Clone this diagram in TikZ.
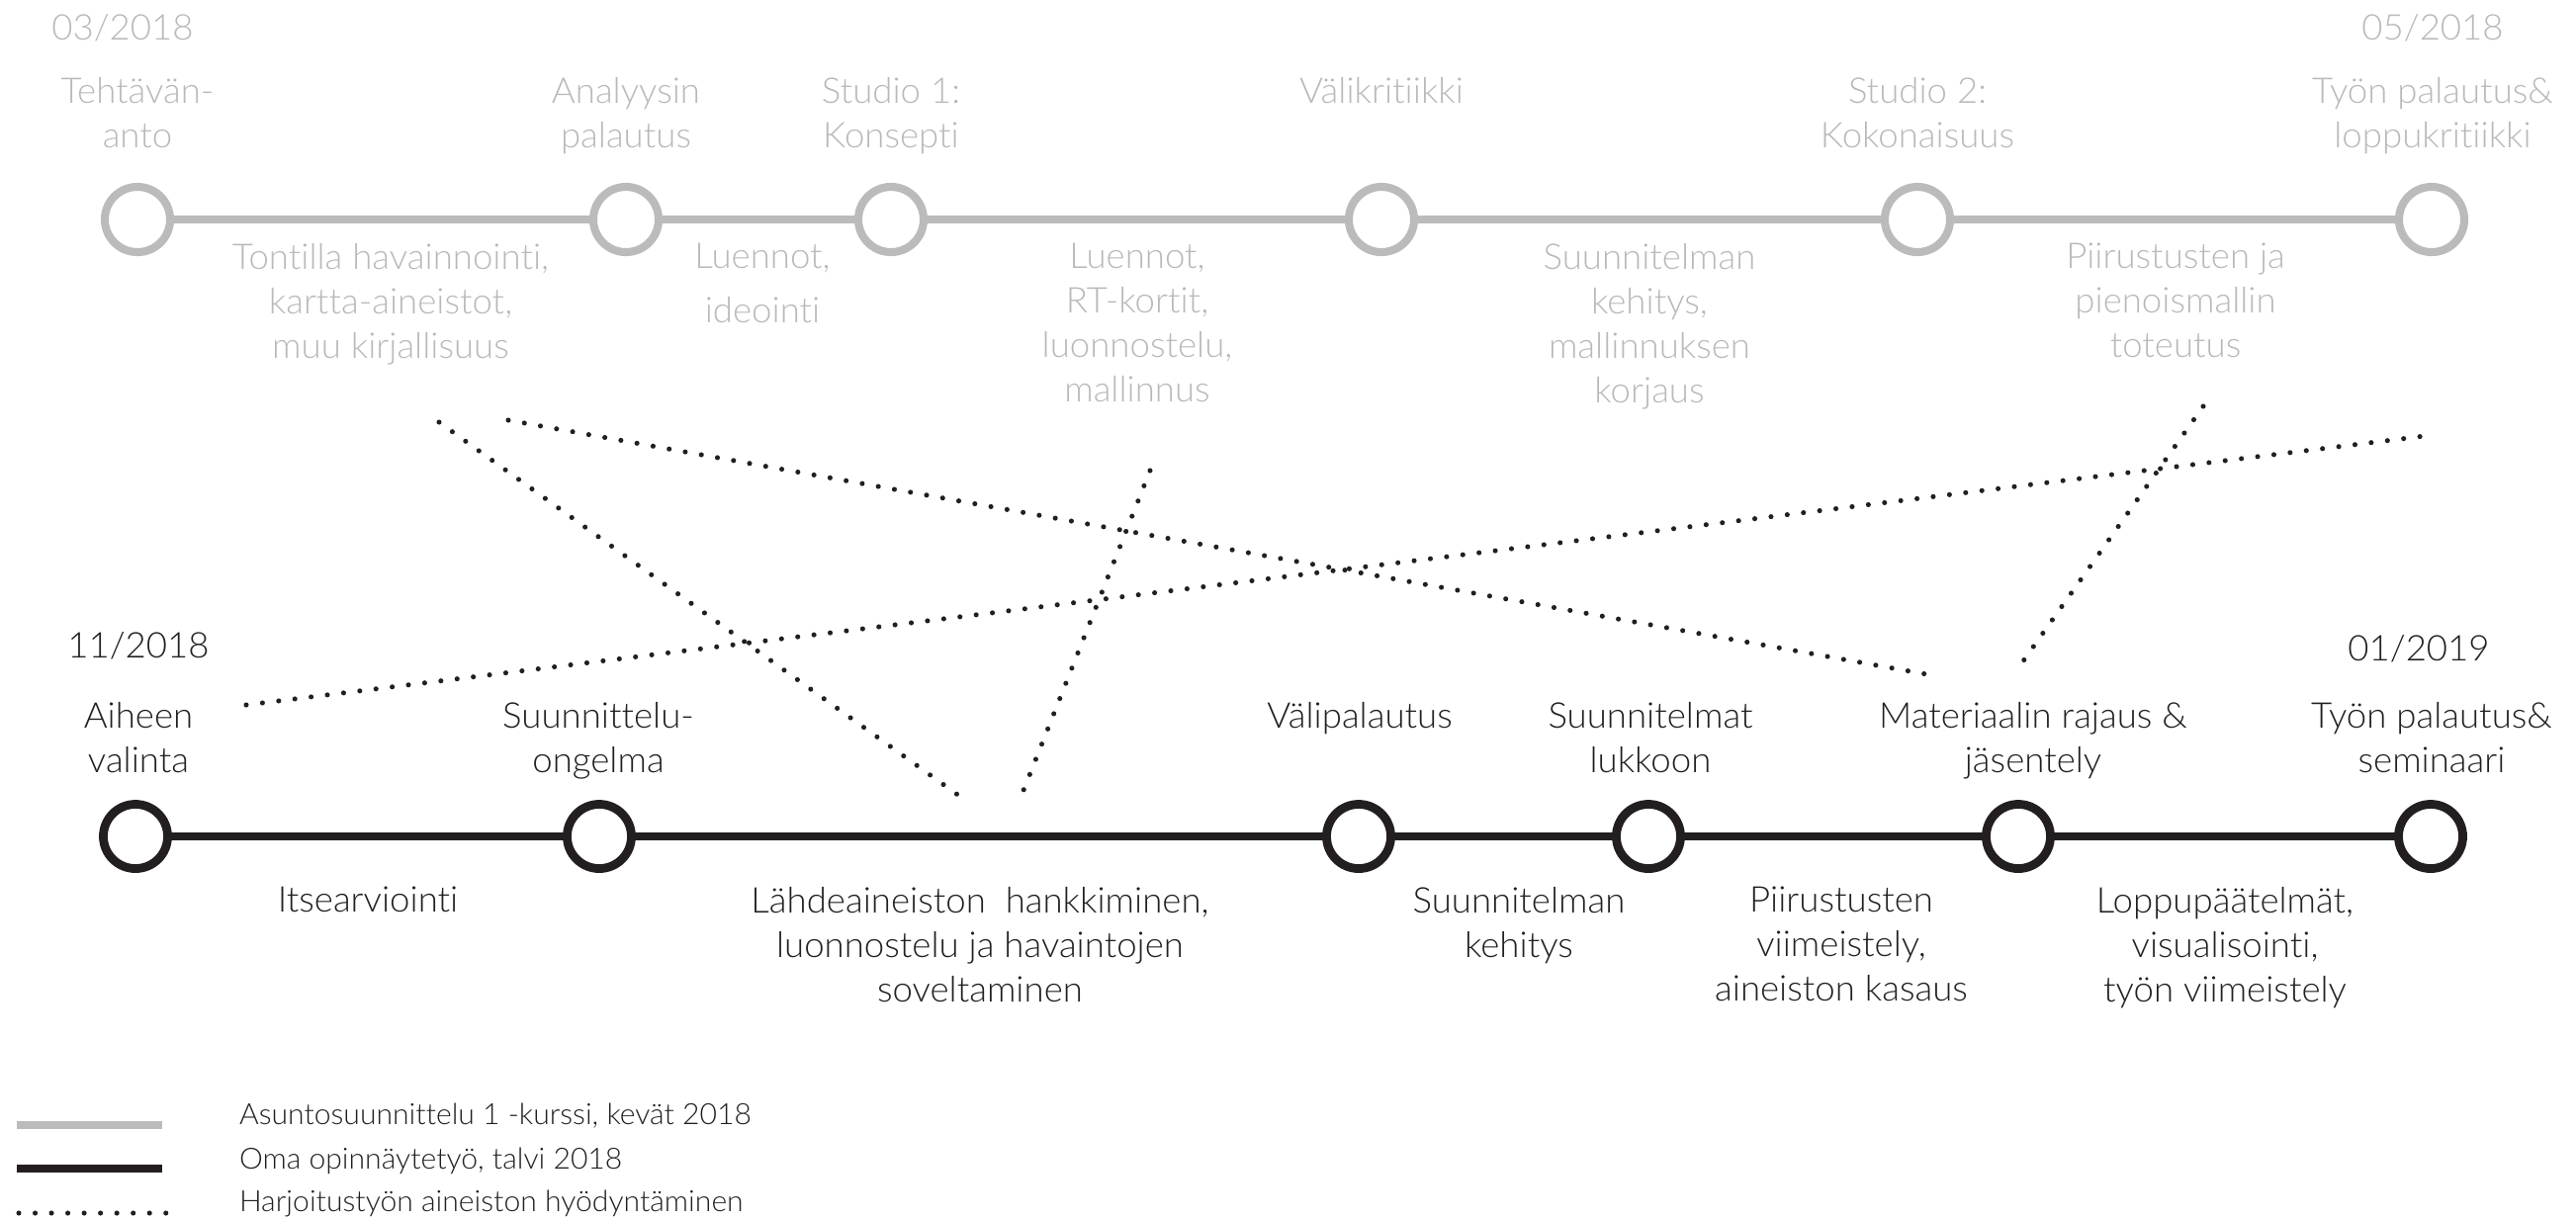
\documentclass[tikz,border=0pt]{standalone}
\usepackage{fontspec}
\IfFontExistsTF{Lato Light}{\setmainfont{Lato Light}[FakeStretch=1.02,Ligatures={NoCommon,NoContextual}]}{\setmainfont{Lato}[FakeStretch=1.02,Ligatures={NoCommon,NoContextual}]}
\definecolor{lg}{RGB}{187,187,187}
\definecolor{lgt}{RGB}{185,185,185}
\definecolor{dk}{RGB}{35,31,32}
\begin{document}
\begin{tikzpicture}[x=0.01cm,y=-0.01cm,
  every node/.style={inner sep=0pt, outer sep=0pt},
  gcirc/.style={circle, draw=lg, line width=2.3pt, minimum size=0.66cm, fill=white},
  bcirc/.style={circle, draw=dk, line width=2.5pt, minimum size=0.65cm, fill=white},
  gline/.style={draw=lg, line width=2.2pt},
  bline/.style={draw=dk, line width=2.4pt},
  dotline/.style={draw=dk, line width=1.45pt, line cap=round, dash pattern=on 0pt off 4.7pt},
  gtxt/.style={text=lgt, font=\fontsize{10.2}{12.8}\selectfont, align=center},
  btxt/.style={text=dk, font=\fontsize{10.2}{12.8}\selectfont, align=center},
  legtxt/.style={text=dk, font=\fontsize{8.4}{10}\selectfont, anchor=base west}
]
\useasboundingbox (0,0) rectangle (2605,1232);

% ---- top timeline (grey) ----
\node[gcirc] (g1) at (139,222) {};
\node[gcirc] (g2) at (633,222) {};
\node[gcirc] (g3) at (901,222) {};
\node[gcirc] (g4) at (1397,222) {};
\node[gcirc] (g5) at (1939,222) {};
\node[gcirc] (g6) at (2459,222) {};
\draw[gline] (g1) -- (g2);
\draw[gline] (g2) -- (g3);
\draw[gline] (g3) -- (g4);
\draw[gline] (g4) -- (g5);
\draw[gline] (g5) -- (g6);

\node[gtxt, anchor=base] (d1) at (124,40) {03/2018};
\node[gtxt, anchor=base] (d2) at (2460,40) {05/2018};

\node[gtxt, anchor=north] (t1) at (139,78) {Tehtävän-\\anto};
\node[gtxt, anchor=north] (t2) at (633,78) {Analyysin\\palautus};
\node[gtxt, anchor=north] (t3) at (901,78) {Studio 1:\\Konsepti};
\node[gtxt, anchor=north] (t4) at (1397,78) {Välikritiikki};
\node[gtxt, anchor=north] (t5) at (1939,78) {Studio 2:\\Kokonaisuus};
\node[gtxt, anchor=north] (t6) at (2460,78) {Työn palautus\&\\loppukritiikki};

\node[gtxt, anchor=north] (s1) at (395,246) {Tontilla havainnointi,\\kartta-aineistot,\\muu kirjallisuus};
\node[gtxt, anchor=north] (s2) at (771,246) {Luennot,\\[3pt]ideointi};
\node[gtxt, anchor=north] (s3) at (1150,246) {Luennot,\\RT-kortit,\\luonnostelu,\\mallinnus};
\node[gtxt, anchor=north] (s4) at (1668,246) {Suunnitelman\\kehitys,\\mallinnuksen\\korjaus};
\node[gtxt, anchor=north] (s5) at (2200,246) {Piirustusten ja\\pienoismallin\\toteutus};

% ---- bottom timeline (black) ----
\node[bcirc] (b1) at (137,846) {};
\node[bcirc] (b2) at (606,846) {};
\node[bcirc] (b3) at (1374,846) {};
\node[bcirc] (b4) at (1667,846) {};
\node[bcirc] (b5) at (2041,846) {};
\node[bcirc] (b6) at (2458,846) {};
\draw[bline] (b1) -- (b2);
\draw[bline] (b2) -- (b3);
\draw[bline] (b3) -- (b4);
\draw[bline] (b4) -- (b5);
\draw[bline] (b5) -- (b6);

\node[btxt, anchor=base] (d3) at (140,665) {11/2018};
\node[btxt, anchor=base] (d4) at (2446,668) {01/2019};

\node[btxt, anchor=north] (u1) at (140,710) {Aiheen\\valinta};
\node[btxt, anchor=north] (u2) at (605,710) {Suunnittelu-\\ongelma};
\node[btxt, anchor=north] (u3) at (1375,710) {Välipalautus};
\node[btxt, anchor=north] (u4) at (1669,710) {Suunnitelmat\\lukkoon};
\node[btxt, anchor=north] (u5) at (2056,710) {Materiaalin rajaus \&\\jäsentely};
\node[btxt, anchor=north] (u6) at (2459,710) {Työn palautus\&\\seminaari};

\node[btxt, anchor=north] (l1) at (372,897) {Itsearviointi};
\node[btxt, anchor=north] (l2) at (991,897) {Lähdeaineiston\ \ hankkiminen,\\luonnostelu ja havaintojen\\soveltaminen};
\node[btxt, anchor=north] (l3) at (1536,897) {Suunnitelman\\kehitys};
\node[btxt, anchor=north] (l4) at (1862,897) {Piirustusten\\viimeistely,\\aineiston kasaus};
\node[btxt, anchor=north] (l5) at (2250,897) {Loppupäätelmät,\\visualisointi,\\työn viimeistely};

% ---- dotted links ----
\coordinate (p1a) at (444,427);  \coordinate (p1b) at (970,805);
\coordinate (p2a) at (514,425);  \coordinate (p2b) at (1954,683);
\coordinate (p3a) at (1163,476); \coordinate (p3b) at (1032,807);
\coordinate (p4a) at (249,713);  \coordinate (p4b) at (2460,440);
\coordinate (p5a) at (2228,411); \coordinate (p5b) at (2045,670);
\draw[dotline] (p1a) -- (p1b);
\draw[dotline] (p2a) -- (p2b);
\draw[dotline] (p3a) -- (p3b);
\draw[dotline] (p4a) -- (p4b);
\draw[dotline] (p5a) -- (p5b);

% ---- legend ----
\coordinate (k1a) at (17,1138); \coordinate (k1b) at (164,1138);
\coordinate (k2a) at (17,1182); \coordinate (k2b) at (164,1182);
\coordinate (k3a) at (19,1227); \coordinate (k3b) at (168,1227);
\draw[gline] (k1a) -- (k1b);
\draw[bline] (k2a) -- (k2b);
\draw[dotline] (k3a) -- (k3b);
\node[legtxt] (e1) at (242,1137) {Asuntosuunnittelu 1 -kurssi, kevät 2018};
\node[legtxt] (e2) at (242,1182) {Oma opinnäytetyö, talvi 2018};
\node[legtxt] (e3) at (242,1225) {Harjoitustyön aineiston hyödyntäminen};
\end{tikzpicture}
\end{document}
